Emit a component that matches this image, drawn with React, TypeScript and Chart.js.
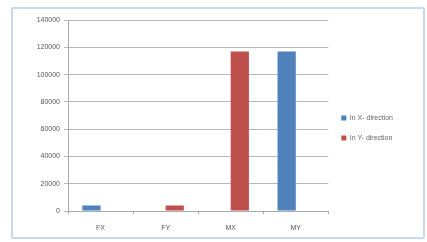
import React, { useEffect, useRef } from "react";
import { Chart, registerables } from "chart.js";

Chart.register(...registerables);

const categories = ["FX", "FY", "MX", "MY"];
const xDirection = [4000, 0, 0, 117000];
const yDirection = [0, 4000, 117000, 0];
const seriesLabels = ["In X- direction", "In Y- direction"];
const yTicks = [0, 20000, 40000, 60000, 80000, 100000, 120000, 140000];

export default function App() {
  const ref = useRef<HTMLCanvasElement | null>(null);
  useEffect(() => {
    if (!ref.current) return;
    const font = { family: "Liberation Sans", size: 7 };
    const chart = new Chart(ref.current, {
      type: "bar",
      data: {
        labels: categories,
        datasets: [
          { label: seriesLabels[0], data: xDirection, backgroundColor: "#4f81bd", categoryPercentage: 0.56, barPercentage: 1 },
          { label: seriesLabels[1], data: yDirection, backgroundColor: "#c0504d", categoryPercentage: 0.56, barPercentage: 1 },
        ],
      },
      options: {
        animation: false,
        responsive: false,
        layout: { padding: { top: 20, right: 24, bottom: 6, left: 0 } },
        plugins: {
          tooltip: { enabled: false },
          legend: {
            position: "right",
            labels: { font, color: "#666", boxWidth: 5, boxHeight: 5, padding: 13 },
          },
        },
        scales: {
          x: {
            grid: { display: true, drawOnChartArea: false, offset: true, tickLength: 3, color: "#aaa" },
            border: { color: "#aaa" },
            ticks: { font, color: "#555", padding: 10 },
            afterFit: (s: any) => { s.height = 25; },
          },
          y: {
            min: yTicks[0],
            max: yTicks[yTicks.length - 1],
            ticks: { stepSize: 20000, font, color: "#555", padding: 4, callback: (v: any) => String(v) },
            grid: { color: "#b8b8b8", tickLength: 4 },
            border: { color: "#aaa" },
            afterFit: (s: any) => { s.width = 68; },
          },
        },
      },
    });
    return () => chart.destroy();
  }, []);
  return (
    <div style={{ position: "absolute", left: 0, top: 0, width: 427, height: 242, background: "#fff" }}>
      <div style={{ position: "absolute", left: 11, top: 7, width: 410, height: 228, border: "2px solid #c9d9ec", borderRadius: 2 }} />
      <canvas ref={ref} width={427} height={242} style={{ position: "absolute", left: 0, top: 0 }} />
    </div>
  );
}
